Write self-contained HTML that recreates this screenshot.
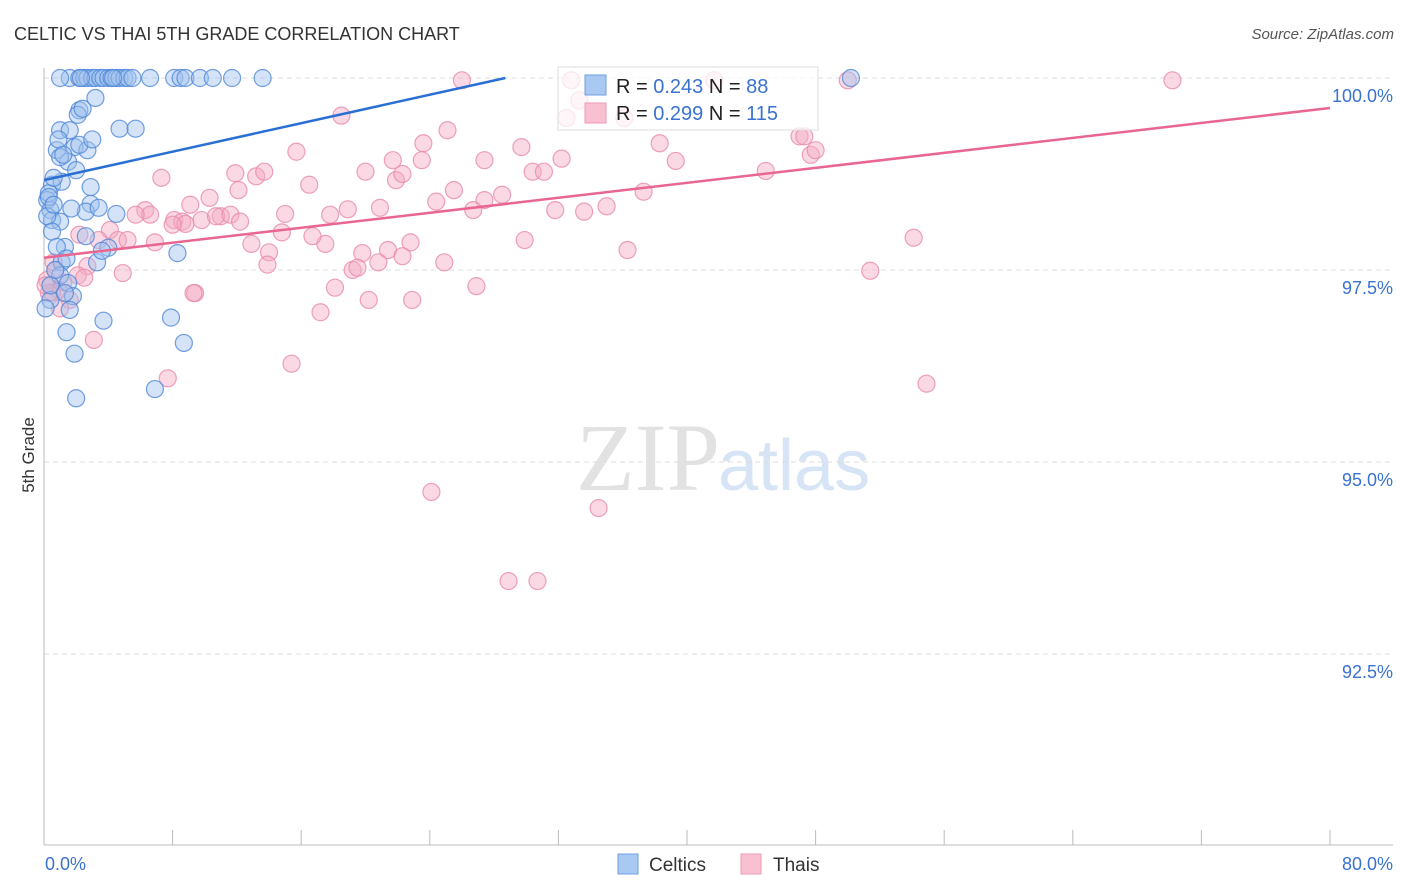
<!DOCTYPE html>
<html><head><meta charset="utf-8">
<style>
body{margin:0;background:#fff;font-family:"Liberation Sans",sans-serif;}
#wrap{position:relative;width:1406px;height:892px;overflow:hidden;}
svg{position:absolute;left:0;top:0;}
</style></head>
<body>
<div id="wrap">
<svg id="chart" width="1406" height="892">
<text x="14" y="40" font-size="18" fill="#333">CELTIC VS THAI 5TH GRADE CORRELATION CHART</text>
<text x="1394" y="39" font-size="15" fill="#555" font-style="italic" text-anchor="end">Source: ZipAtlas.com</text>
<text transform="translate(34,455) rotate(-90)" font-size="17" fill="#333" text-anchor="middle">5th Grade</text>
<text x="720" y="490" font-size="96" fill="#e2e2e2" text-anchor="end" font-family="Liberation Serif,serif">ZIP</text>
<text x="718" y="490" font-size="72" fill="#d6e4f5">atlas</text>
<g id="grid"></g><g id="axes"></g><g id="pts"></g><g id="lines"></g>
<g>
<rect x="558" y="67" width="260" height="63" fill="#fff" fill-opacity="0.75" stroke="#ddd"/>
<rect x="585" y="75" width="21" height="20" fill="#a9c8f2" stroke="#6e9fe0"/>
<rect x="585" y="103" width="21" height="20" fill="#f9c0d2" stroke="#ee9ab6"/>
<text x="616" y="93" font-size="20" fill="#222">R = <tspan fill="#3a72d0">0.243</tspan>   N =  <tspan fill="#3a72d0">88</tspan></text>
<text x="616" y="120" font-size="20" fill="#222">R = <tspan fill="#3a72d0">0.299</tspan>   N = <tspan fill="#3a72d0">115</tspan></text>
</g>
<g>
<rect x="618" y="854" width="20" height="20" fill="#a9c8f2" stroke="#6e9fe0"/>
<text x="649" y="871" font-size="19" fill="#333">Celtics</text>
<rect x="741" y="854" width="20" height="20" fill="#f9c0d2" stroke="#ee9ab6"/>
<text x="773" y="871" font-size="19" fill="#333">Thais</text>
</g>
</svg>
</div>
<script>
const yTicks=[100,97.5,95,92.5];
const yTickLabels=["100.0%","97.5%","95.0%","92.5%"];
const xTickLabels=["0.0%","80.0%"];
const celticsX=[1.6,2.2,2.5,2.7,3.0,3.2,3.5,3.7,4.0,4.2,4.5,4.7,5.0,5.2,5.5,6.6,8.1,8.5,8.8,9.7,10.5,11.7,13.6,50.2,
3.2,2.2,2.1,1.0,1.6,4.7,5.7,0.8,1.9,2.7,1.5,1.0,2.2,0.5,1.1,2.9,0.2,0.4,0.5,1.0,2.9,2.6,3.4,4.5,2.6,1.3,4.0,1.1,3.3,1.0,1.5,1.8,0.4,1.6,1.4,3.7,1.9,2.0,7.9,8.7,6.9,8.3,
0.3,0.6,0.9,1.2,0.2,0.5,2.4,3.0,1.7,2.0,0.7,1.3,0.1,0.4,0.8,2.3,1.0,0.3,0.6,1.4,3.6,4.3];
const celticsY=[100,100,100,100,100,100,100,100,100,100,100,100,100,100,100,100,100,100,100,100,100,100,100,100,
99.74,99.58,99.52,99.32,99.32,99.34,99.34,99.06,99.10,99.06,98.91,98.97,99.13,98.61,98.65,98.58,98.41,98.28,98.15,98.13,98.36,98.26,98.31,98.23,97.94,97.80,97.79,97.60,97.60,97.43,97.33,97.16,97.11,96.98,96.69,96.84,96.41,95.83,96.88,96.55,95.95,97.72,
98.5,98.7,99.2,99.0,98.2,98.0,99.6,99.2,98.3,98.8,97.5,97.2,97.0,97.3,97.8,100,100,98.45,98.35,97.65,97.75,100];
const thaisX=[26.0,32.8,41.7,70.2,32.5,36.1,33.3,18.5,25.1,23.6,29.7,15.7,21.7,23.5,27.4,32.2,38.3,39.3,44.9,47.0,47.3,47.7,48.0,7.3,11.9,13.2,13.7,16.5,20.0,21.9,22.3,30.4,31.1,25.5,27.4,37.3,12.1,10.3,11.0,6.3,6.6,8.1,8.6,9.1,9.8,10.7,11.6,12.2,8.8,5.7,4.1,2.2,3.4,4.6,5.2,6.9,8.0,15.0,17.8,18.9,20.9,24.4,26.7,28.5,31.8,33.6,35.0,29.9,22.8,21.4,19.8,19.2,19.5,20.8,22.3,17.5,16.7,14.8,14.0,12.9,13.9,9.4,4.9,2.7,2.1,1.2,0.9,0.5,0.2,0.7,1.6,3.1,9.3,7.7,15.4,17.2,18.1,20.2,22.9,24.9,26.9,36.3,51.4,54.1,54.9,24.1,34.5,28.9,30.7,50.0,0.3,1.0,2.5,0.1,0.6];
const thaisY=[99.97,99.97,99.97,99.97,99.48,99.48,99.71,99.51,99.32,99.15,99.10,99.04,98.93,98.93,98.93,98.95,99.15,98.92,98.79,99.24,99.24,99.00,99.06,98.70,98.76,98.72,98.78,98.61,98.78,98.67,98.75,98.78,98.78,98.54,98.41,98.52,98.54,98.44,98.20,98.28,98.22,98.15,98.13,98.35,98.15,98.20,98.22,98.13,98.10,98.22,98.02,97.96,97.89,97.89,97.89,97.86,98.09,98.23,98.22,98.29,98.31,98.39,98.28,98.48,98.28,98.26,98.33,97.89,97.86,97.76,97.72,97.50,97.53,97.60,97.68,97.84,97.94,97.99,97.73,97.84,97.57,97.20,97.46,97.55,97.43,97.34,97.24,97.21,97.37,97.50,97.11,96.59,97.20,96.09,96.28,96.95,97.27,97.11,97.11,97.60,97.29,97.76,97.49,97.92,96.02,94.61,94.40,93.45,93.45,99.97,97.2,97.0,97.4,97.3,97.6];
const trendCeltics=[[0,98.67],[28.7,100]];
const trendThais=[[0,97.66],[80,99.61]];
const NS="http://www.w3.org/2000/svg";
function sx(v){return 44+v*16.075;}
function sy(v){return 78+(100-v)*76.8;}
function mk(tag,attrs,parent){const e=document.createElementNS(NS,tag);for(const k in attrs)e.setAttribute(k,attrs[k]);parent.appendChild(e);return e;}
const grid=document.getElementById('grid'),axes=document.getElementById('axes'),pts=document.getElementById('pts'),lines=document.getElementById('lines');
yTicks.forEach((t,i)=>{
 const l=mk('line',{x1:44,x2:1393,y1:sy(t),y2:sy(t),stroke:'#ddd','stroke-dasharray':'5,4'},grid);
 
 
 const tx=mk('text',{x:1393,y:sy(t)+24,'font-size':18,fill:'#3a72d0','text-anchor':'end'},axes);
 tx.textContent=yTickLabels[i];
 
 
});
let a=mk('line',{x1:44,x2:44,y1:68,y2:845,stroke:'#bbb'},axes);


a=mk('line',{x1:44,x2:1393,y1:845,y2:845,stroke:'#bbb'},axes);


for(let i=0;i<=10;i++){
 const t=mk('line',{x1:sx(i*8),x2:sx(i*8),y1:830,y2:845,stroke:'#bbb'},axes);
 
 
}
let xl=mk('text',{x:45,y:870,'font-size':18,fill:'#3a72d0'},axes);xl.textContent=xTickLabels[0];


xl=mk('text',{x:1393,y:870,'font-size':18,fill:'#3a72d0','text-anchor':'end'},axes);xl.textContent=xTickLabels[1];


function drawPts(X,Y,fill,stroke,name){
 X.forEach((x,i)=>{
  const c=mk('circle',{cx:sx(x),cy:sy(Y[i]),r:8.5,fill:fill,'fill-opacity':0.45,stroke:stroke,'stroke-opacity':0.8,'stroke-width':1.2},pts);
  
  
 });
}
drawPts(thaisX,thaisY,'#f5aac4','#e98aaa','thais-point');
drawPts(celticsX,celticsY,'#9fc1ee','#4f87d8','celtics-point');
let tl=mk('line',{x1:sx(trendCeltics[0][0]),y1:sy(trendCeltics[0][1]),x2:sx(trendCeltics[1][0]),y2:sy(trendCeltics[1][1]),stroke:'#2a6fd4','stroke-width':2.5},lines);


tl=mk('line',{x1:sx(trendThais[0][0]),y1:sy(trendThais[0][1]),x2:sx(trendThais[1][0]),y2:sy(trendThais[1][1]),stroke:'#e8668f','stroke-width':2.5},lines);


</script>
</body></html>
